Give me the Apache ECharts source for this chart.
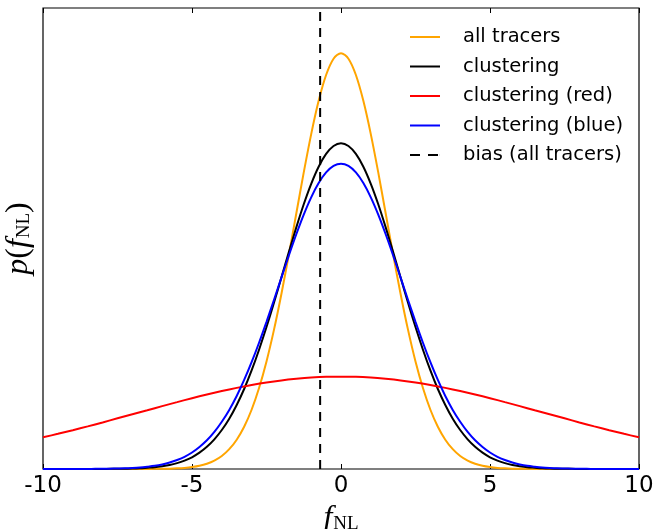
<!DOCTYPE html>
<html lang="en">

<head>
  <meta charset="UTF-8">
  <title>p(fNL)</title>
  <style>
    html, body { margin: 0; padding: 0; background: #fff; }
    #main { width: 668px; height: 529px; }
  </style>
</head>

<body>
<div id="main"></div>
<script src="https://cdn.jsdelivr.net/npm/echarts@6/dist/echarts.min.js"></script>
<script>
  let fnlFine = [-10, -9.75, -9.5, -9.25, -9, -8.75, -8.5, -8.25, -8, -7.75, -7.5, -7.25, -7, -6.75, -6.5, -6.25, -6, -5.75, -5.5, -5.25,
    -5, -4.75, -4.5, -4.25, -4, -3.75, -3.5, -3.25, -3, -2.75, -2.5, -2.25, -2, -1.75, -1.5, -1.25, -1, -0.75, -0.5, -0.25,
    0, 0.25, 0.5, 0.75, 1, 1.25, 1.5, 1.75, 2, 2.25, 2.5, 2.75, 3, 3.25, 3.5, 3.75, 4, 4.25, 4.5, 4.75,
    5, 5.25, 5.5, 5.75, 6, 6.25, 6.5, 6.75, 7, 7.25, 7.5, 7.75, 8, 8.25, 8.5, 8.75, 9, 9.25, 9.5, 9.75, 10];
  // wide red curve, steps of 0.5
  let fnlCoarse = [-10, -9.5, -9, -8.5, -8, -7.5, -7, -6.5, -6, -5.5, -5, -4.5, -4, -3.5, -3, -2.5, -2, -1.5, -1, -0.5,
    0, 0.5, 1, 1.5, 2, 2.5, 3, 3.5, 4, 4.5, 5, 5.5, 6, 6.5, 7, 7.5, 8, 8.5, 9, 9.5, 10];

  let allTracers = [0, 0, 0, 0, 0, 0, 0, 0, 0, 0, 0, 0, 0, 0, 0,
    0.0001, 0.0001, 0.0002, 0.0004, 0.0007, 0.0012, 0.0020, 0.0033, 0.0053, 0.0082, 0.0125, 0.0185, 0.0267, 0.0374, 0.0511,
    0.0679, 0.0878, 0.1105, 0.1353, 0.1613, 0.1872, 0.2114, 0.2324, 0.2487, 0.2590,
    0.2625,
    0.2590, 0.2487, 0.2324, 0.2114, 0.1872, 0.1613, 0.1353, 0.1105, 0.0878, 0.0679,
    0.0511, 0.0374, 0.0267, 0.0185, 0.0125, 0.0082, 0.0053, 0.0033, 0.0020, 0.0012, 0.0007, 0.0004, 0.0002, 0.0001, 0.0001,
    0, 0, 0, 0, 0, 0, 0, 0, 0, 0, 0, 0, 0, 0, 0];
  let clustering = [0, 0, 0, 0, 0, 0, 0, 0, 0,
    0.0001, 0.0001, 0.0002, 0.0003, 0.0005, 0.0008, 0.0011, 0.0017, 0.0025, 0.0037, 0.0053, 0.0074, 0.0103, 0.0140, 0.0187,
    0.0246, 0.0317, 0.0404, 0.0505, 0.0622, 0.0753, 0.0896, 0.1049, 0.1209, 0.1369, 0.1525, 0.1671, 0.1800, 0.1908, 0.1989, 0.2039,
    0.2056,
    0.2039, 0.1989, 0.1908, 0.1800, 0.1671, 0.1525, 0.1369, 0.1209, 0.1049, 0.0896, 0.0753, 0.0622, 0.0505, 0.0404, 0.0317, 0.0246,
    0.0187, 0.0140, 0.0103, 0.0074, 0.0053, 0.0037, 0.0025, 0.0017, 0.0011, 0.0008, 0.0005, 0.0003, 0.0002, 0.0001, 0.0001,
    0, 0, 0, 0, 0, 0, 0, 0, 0];
  let clusteringBlue = [0, 0, 0, 0, 0, 0, 0,
    0.0001, 0.0001, 0.0002, 0.0003, 0.0004, 0.0006, 0.0009, 0.0014, 0.0020, 0.0029, 0.0041, 0.0057, 0.0077, 0.0104, 0.0139,
    0.0181, 0.0234, 0.0298, 0.0373, 0.0461, 0.0562, 0.0674, 0.0797, 0.0929, 0.1067, 0.1208, 0.1348, 0.1482, 0.1606, 0.1715,
    0.1805, 0.1872, 0.1913,
    0.1927,
    0.1913, 0.1872, 0.1805, 0.1715, 0.1606, 0.1482, 0.1348, 0.1208, 0.1067, 0.0929, 0.0797, 0.0674, 0.0562, 0.0461, 0.0373,
    0.0298, 0.0234, 0.0181, 0.0139, 0.0104, 0.0077, 0.0057, 0.0041, 0.0029, 0.0020, 0.0014, 0.0009, 0.0006, 0.0004, 0.0003,
    0.0002, 0.0001, 0.0001,
    0, 0, 0, 0, 0, 0, 0];
  let clusteringRed = [0.0200, 0.0222, 0.0245, 0.0269, 0.0294, 0.0320, 0.0346, 0.0371, 0.0397, 0.0422, 0.0447, 0.0470, 0.0492, 0.0512, 0.0530, 0.0546, 0.0559, 0.0569, 0.0577, 0.0582,
    0.0583, 0.0582, 0.0577, 0.0569, 0.0559, 0.0546, 0.0530, 0.0512, 0.0492, 0.0470, 0.0447, 0.0422, 0.0397, 0.0371, 0.0346, 0.0320, 0.0294, 0.0269, 0.0245, 0.0222, 0.0200];

  // bias (all tracers) best fit, vertical line
  let biasX = [-0.7, -0.7];
  let biasY = [0, 0.291];

  let xTicks = [-10, -5, 0, 5, 10];

  function pairs(xs, ys) {
    return xs.map((x, i) => [x, ys[i]]);
  }

  let chart = echarts.init(document.getElementById('main'));

  let mathRich = {
    i: { fontFamily: 'Liberation Serif', fontStyle: 'italic', fontSize: 32, color: '#000' },
    n: { fontFamily: 'Liberation Serif', fontSize: 32, color: '#000' },
    s: { fontFamily: 'Liberation Serif', fontSize: 19, color: '#000', padding: [11, 0, 0, 1] }
  };

  // legend icons: thin solid bar, and two dashes for the bias line
  let solidIcon = 'path://M0,0 H30 V2 H0 Z';
  let dashIcon = 'path://M0,0 H10 V2 H0 Z M18,0 H28 V2 H18 Z M29.9,0 H30 V2 H29.9 Z';

  function curve(name, color, xs, values) {
    return {
      name: name,
      type: 'line',
      data: pairs(xs, values),
      smooth: 0.3,
      symbol: 'none',
      lineStyle: { color: color, width: 2 },
      itemStyle: { color: color }
    };
  }

  let option = {
    animation: false,
    backgroundColor: '#fff',
    grid: {
      left: 43, right: 29, top: 8, bottom: 60,
      outerBoundsMode: 'none',
      containLabel: false,
      show: true, borderColor: '#000', borderWidth: 1.2
    },
    legend: {
      orient: 'vertical',
      left: 405,
      top: 22,
      itemWidth: 30,
      itemHeight: 2,
      itemGap: 9.5,
      textStyle: {
        fontFamily: 'DejaVu Sans', fontSize: 19.5, color: '#000',
        lineHeight: 20, padding: [0, 0, 0, 18]
      },
      data: [
        { name: 'all tracers', icon: solidIcon, itemStyle: { color: '#FFA500' } },
        { name: 'clustering', icon: solidIcon, itemStyle: { color: '#000000' } },
        { name: 'clustering (red)', icon: solidIcon, itemStyle: { color: '#FF0000' } },
        { name: 'clustering (blue)', icon: solidIcon, itemStyle: { color: '#0000FF' } },
        { name: 'bias (all tracers)', icon: dashIcon, itemStyle: { color: '#000000' } }
      ]
    },
    xAxis: [{
      type: 'value',
      min: -10, max: 10, interval: 5,
      axisLine: { show: false },
      axisTick: { inside: true, length: 5, lineStyle: { color: '#000' } },
      axisLabel: {
        margin: 6, color: '#000', fontFamily: 'DejaVu Sans', fontSize: 23,
        customValues: xTicks
      },
      splitLine: { show: false },
      name: '{i|f}{s|NL}',
      nameLocation: 'middle',
      nameGap: 30,
      nameTextStyle: { rich: mathRich }
    }, {
      type: 'value',
      position: 'top',
      min: -10, max: 10, interval: 5,
      axisLine: { show: false },
      axisTick: { inside: true, length: 5, lineStyle: { color: '#000' } },
      axisLabel: { show: false },
      splitLine: { show: false }
    }],
    yAxis: {
      type: 'value',
      min: 0, max: 0.291,
      axisLine: { show: false },
      axisTick: { show: false },
      axisLabel: { show: false },
      splitLine: { show: false },
      name: '{i|p}{n|(}{i|f}{s|NL}{n|)}',
      nameLocation: 'middle',
      nameRotate: 90,
      nameGap: 8,
      nameTextStyle: { rich: mathRich }
    },
    series: [
      curve('all tracers', '#FFA500', fnlFine, allTracers),
      curve('clustering', '#000000', fnlFine, clustering),
      curve('clustering (red)', '#FF0000', fnlCoarse, clusteringRed),
      curve('clustering (blue)', '#0000FF', fnlFine, clusteringBlue),
      {
        name: 'bias (all tracers)',
        type: 'line',
        data: pairs(biasX, biasY),
        symbol: 'none',
        lineStyle: { color: '#000', width: 2, type: [9, 7] },
        itemStyle: { color: '#000' }
      }
    ]
  };
  chart.setOption(option);
</script>
</body>

</html>
